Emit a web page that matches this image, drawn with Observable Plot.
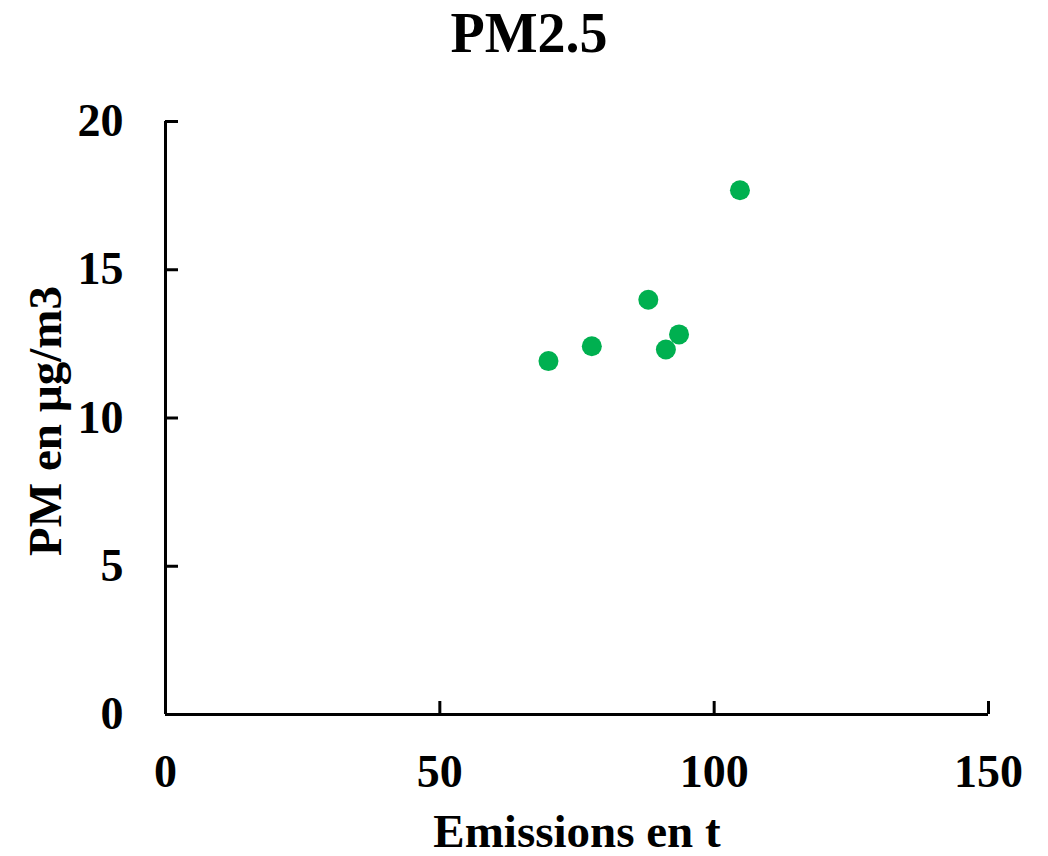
<!DOCTYPE html>
<html>
<head>
<meta charset="utf-8">
<script src="https://cdn.jsdelivr.net/npm/d3@7"></script>
<script src="https://cdn.jsdelivr.net/npm/@observablehq/plot@0.6"></script>
<style>
  html, body { margin: 0; padding: 0; background: #fff; }
  #title {
    width: 1048px; height: 80px; box-sizing: border-box;
    padding-top: 5px; padding-left: 10px;
    font-family: "Liberation Serif", "Times New Roman", serif;
    font-weight: bold; font-size: 56px; line-height: 1;
    text-align: center; color: #000;
  }
  #chart svg { display: block; }
</style>
</head>
<body>
<div id="title">PM2.5</div>
<div id="chart"></div>
<script>
const emissions = [69.8, 77.7, 88.0, 91.2, 93.6, 104.7];
const pm25 = [11.92, 12.42, 13.99, 12.31, 12.82, 17.68];
const xTicks = [0, 50, 100, 150];
const yTicks = [0, 5, 10, 15, 20];
const xLabel = "Emissions en t";
const yLabel = "PM en µg/m3";

const data = emissions.map((e, i) => ({x: e, y: pm25[i]}));

const chart = Plot.plot({
  width: 1048,
  height: 776,
  marginTop: 41,
  marginBottom: 142,
  marginLeft: 165,
  marginRight: 60,
  style: {
    fontFamily: "'Liberation Serif', 'Times New Roman', serif",
    fontWeight: "bold",
    fontSize: "46px",
    color: "#000",
    background: "#fff"
  },
  x: {domain: [0, 150]},
  y: {domain: [0, 20]},
  marks: [
    Plot.axisY({ticks: yTicks, tickSize: -13, tickPadding: 55, strokeWidth: 3, label: null, fontSize: 46}),
    Plot.axisX({ticks: xTicks, tickSize: -13, tickPadding: 53, strokeWidth: 3, label: null, fontSize: 46}),
    Plot.ruleX([0], {stroke: "#000", strokeWidth: 3}),
    Plot.ruleY([0], {stroke: "#000", strokeWidth: 3}),
    Plot.dot(data, {x: "x", y: "y", r: 10, fill: "#00b050", stroke: "none"}),
    Plot.text([yLabel], {text: d => d, frameAnchor: "left", textAnchor: "middle", rotate: -90, dx: -120, dy: 3, lineAnchor: "middle", fontSize: 47, fontWeight: "bold", fill: "#000"}),
    Plot.text([xLabel], {text: d => d, frameAnchor: "bottom", textAnchor: "middle", dy: 99, lineAnchor: "top", fontSize: 47, fontWeight: "bold", fill: "#000"})
  ]
});
document.getElementById("chart").appendChild(chart);
</script>
</body>
</html>
